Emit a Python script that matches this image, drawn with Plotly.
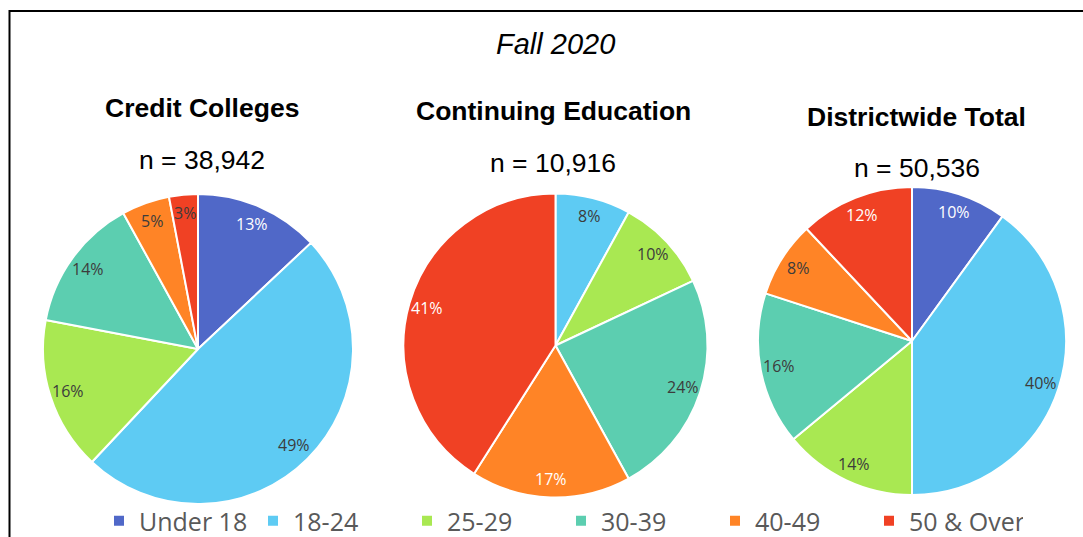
import math
import plotly.graph_objects as go

# ---------------- data ----------------
chart_title = "Fall 2020"
age_groups = ["Under 18", "18-24", "25-29", "30-39", "40-49", "50 & Over"]
panel_titles = ["Credit Colleges", "Continuing Education", "Districtwide Total"]
panel_n = ["38,942", "10,916", "50,536"]
credit_pct = [13, 49, 16, 14, 5, 3]
coned_pct = [0, 8, 10, 24, 17, 41]
district_pct = [10, 40, 14, 16, 8, 12]

# ---------------- style ----------------
W, H = 1083, 537
colors = ["#5068C8", "#5ECBF3", "#A9E852", "#5CCEB0", "#FF8426", "#F04124"]
DARK = "#3c3c3c"
label_colors = [
    ["white", DARK, DARK, DARK, DARK, DARK],
    [DARK, DARK, DARK, DARK, "white", "white"],
    ["white", DARK, DARK, DARK, DARK, "white"],
]
pie_centers = [(198, 349), (555.5, 345.5), (912, 341)]  # pixel centres
pie_radii = [155, 152, 154]
head_x = [201.5, 553, 916.5]
head_title_y = [108, 111, 117]
head_n_y = [160, 163, 168]
LABEL_R = 0.88

series = [credit_pct, coned_pct, district_pct]


def px_x(x):
    return x / W


def px_y(y):
    return 1 - y / H


fig = go.Figure()
annotations = []

for i, vals in enumerate(series):
    cx, cy = pie_centers[i]
    r = pie_radii[i]
    fig.add_trace(go.Pie(
        labels=age_groups,
        values=vals,
        sort=False,
        direction="clockwise",
        rotation=0,
        textinfo="none",
        hoverinfo="label+percent",
        marker=dict(colors=colors, line=dict(color="white", width=2)),
        domain=dict(x=[px_x(cx - r), px_x(cx + r)], y=[px_y(cy + r), px_y(cy - r)]),
        showlegend=(i == 0),
    ))
    total = sum(vals)
    cum = 0
    for j, v in enumerate(vals):
        if v <= 0:
            cum += v
            continue
        mid = (cum + v / 2) / total * 2 * math.pi
        cum += v
        lx = cx + LABEL_R * r * math.sin(mid)
        ly = cy - LABEL_R * r * math.cos(mid)
        annotations.append(dict(
            x=px_x(lx), y=px_y(ly), xref="paper", yref="paper",
            text=f"{v}%", showarrow=False, xanchor="center", yanchor="middle",
            font=dict(family="Open Sans, sans-serif", size=16, color=label_colors[i][j]),
        ))
    annotations.append(dict(
        x=px_x(head_x[i]), y=px_y(head_title_y[i]), xref="paper", yref="paper",
        text=f"<b>{panel_titles[i]}</b>", showarrow=False, xanchor="center", yanchor="middle",
        font=dict(family="Arial, Liberation Sans, sans-serif", size=26.5, color="black"),
    ))
    annotations.append(dict(
        x=px_x(head_x[i]), y=px_y(head_n_y[i]), xref="paper", yref="paper",
        text=f"n = {panel_n[i]}", showarrow=False, xanchor="center", yanchor="middle",
        font=dict(family="Arial, Liberation Sans, sans-serif", size=26.5, color="black"),
    ))

annotations.append(dict(
    x=px_x(555.5), y=px_y(44), xref="paper", yref="paper",
    text=f"<i>{chart_title}</i>", showarrow=False, xanchor="center", yanchor="middle",
    font=dict(family="Arial, Liberation Sans, sans-serif", size=29, color="black"),
))

fig.update_layout(
    width=W, height=H,
    margin=dict(l=0, r=0, t=0, b=0, pad=0, autoexpand=False),
    paper_bgcolor="white",
    plot_bgcolor="white",
    annotations=annotations,
    shapes=[dict(type="rect", xref="paper", yref="paper",
                 x0=px_x(9.5), x1=1.05, y0=-0.05, y1=px_y(11),
                 line=dict(color="black", width=2), fillcolor="rgba(0,0,0,0)")],
    legend=dict(
        orientation="h", x=px_x(99), xanchor="left", y=px_y(521), yanchor="middle",
        font=dict(family="Open Sans, sans-serif", size=25, color="#595959"),
        entrywidth=109, entrywidthmode="pixels",
        bgcolor="rgba(0,0,0,0)", traceorder="normal",
    ),
)

fig.write_html("out.html", config={"displayModeBar": False},
               post_script="document.body.style.margin='0px';")
